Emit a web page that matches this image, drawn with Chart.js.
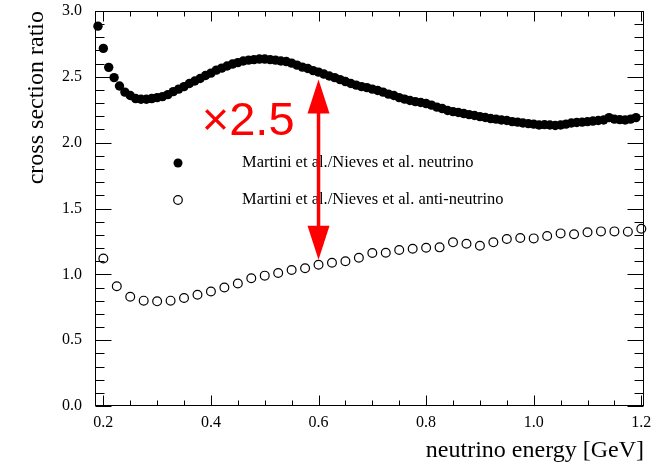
<!DOCTYPE html>
<html>
<head>
<meta charset="utf-8">
<script src="https://cdn.jsdelivr.net/npm/chart.js"></script>
<style>
html, body { margin: 0; padding: 0; background: #fff; }
</style>
</head>
<body>
<canvas id="myChart" width="662" height="465"></canvas>
<script>
// neutrino: filled dots, every 10 MeV
var nuEnergy = [0.19, 0.20, 0.21, 0.22, 0.23, 0.24, 0.25, 0.26, 0.27, 0.28, 0.29,
  0.30, 0.31, 0.32, 0.33, 0.34, 0.35, 0.36, 0.37, 0.38, 0.39,
  0.40, 0.41, 0.42, 0.43, 0.44, 0.45, 0.46, 0.47, 0.48, 0.49,
  0.50, 0.51, 0.52, 0.53, 0.54, 0.55, 0.56, 0.57, 0.58, 0.59,
  0.60, 0.61, 0.62, 0.63, 0.64, 0.65, 0.66, 0.67, 0.68, 0.69,
  0.70, 0.71, 0.72, 0.73, 0.74, 0.75, 0.76, 0.77, 0.78, 0.79,
  0.80, 0.81, 0.82, 0.83, 0.84, 0.85, 0.86, 0.87, 0.88, 0.89,
  0.90, 0.91, 0.92, 0.93, 0.94, 0.95, 0.96, 0.97, 0.98, 0.99,
  1.00, 1.01, 1.02, 1.03, 1.04, 1.05, 1.06, 1.07, 1.08, 1.09,
  1.10, 1.11, 1.12, 1.13, 1.14, 1.15, 1.16, 1.17, 1.18, 1.19];
var nuRatio = [2.885, 2.716, 2.572, 2.494, 2.430, 2.384, 2.358, 2.335, 2.330, 2.330, 2.335,
  2.342, 2.350, 2.365, 2.388, 2.407, 2.426, 2.449, 2.468, 2.487, 2.510,
  2.528, 2.551, 2.566, 2.582, 2.597, 2.608, 2.620, 2.627, 2.631, 2.635,
  2.635, 2.631, 2.627, 2.620, 2.616, 2.604, 2.589, 2.574, 2.563, 2.547,
  2.536, 2.521, 2.506, 2.494, 2.479, 2.464, 2.449, 2.437, 2.426, 2.418,
  2.407, 2.396, 2.384, 2.369, 2.358, 2.342, 2.331, 2.320, 2.312, 2.305,
  2.297, 2.285, 2.270, 2.259, 2.244, 2.236, 2.229, 2.221, 2.213, 2.206,
  2.198, 2.191, 2.183, 2.179, 2.172, 2.168, 2.160, 2.156, 2.149, 2.145,
  2.141, 2.134, 2.137, 2.134, 2.130, 2.134, 2.141, 2.149, 2.153, 2.156,
  2.160, 2.164, 2.168, 2.172, 2.190, 2.179, 2.175, 2.172, 2.179, 2.190];

// anti-neutrino: open circles, every 25 MeV
var antiEnergy = [0.200, 0.225, 0.250, 0.275, 0.300, 0.325, 0.350, 0.375, 0.400, 0.425,
  0.450, 0.475, 0.500, 0.525, 0.550, 0.575, 0.600, 0.625, 0.650, 0.675,
  0.700, 0.725, 0.750, 0.775, 0.800, 0.825, 0.850, 0.875, 0.900, 0.925,
  0.950, 0.975, 1.000, 1.025, 1.050, 1.075, 1.100, 1.125, 1.150, 1.175, 1.200];
var antiRatio = [1.120, 0.910, 0.830, 0.800, 0.795, 0.800, 0.820, 0.845, 0.870, 0.900,
  0.930, 0.970, 0.990, 1.010, 1.033, 1.046, 1.073, 1.088, 1.099, 1.126,
  1.162, 1.164, 1.185, 1.194, 1.202, 1.205, 1.243, 1.232, 1.217, 1.243,
  1.268, 1.276, 1.273, 1.291, 1.311, 1.304, 1.319, 1.326, 1.326, 1.324, 1.346];

var xTicks = [0.2, 0.4, 0.6, 0.8, 1.0, 1.2];
var yTicks = [0.0, 0.5, 1.0, 1.5, 2.0, 2.5, 3.0];
var labels = ["Martini et al./Nieves et al. neutrino", "Martini et al./Nieves et al. anti-neutrino"];

// the red "x2.5" arrow at 0.6 GeV, between the two curves
var arrowX = 0.6;
var arrowTop = 2.48;
var arrowBottom = 1.11;
var arrowText = "\u00d72.5";

var serif = "'Liberation Serif', 'Times New Roman', serif";

var framePlugin = {
  id: 'frame',
  beforeDatasetsDraw(chart) {
    const ctx = chart.ctx, a = chart.chartArea, x = chart.scales.x, y = chart.scales.y;
    const L = Math.round(a.left) + 0.5, R = Math.round(a.right) - 0.5;
    const T = Math.round(a.top) + 0.5, B = Math.round(a.bottom) - 0.5;
    ctx.save();
    ctx.strokeStyle = '#000';
    ctx.lineWidth = 1;
    ctx.strokeRect(L, T, R - L, B - T);
    ctx.beginPath();
    // inward ticks, left and right
    for (let i = 0; i <= 30; i++) {
      const py = Math.round(y.getPixelForValue(i / 10)) + 0.5;
      const len = i % 5 === 0 ? 16 : 9;
      ctx.moveTo(L, py); ctx.lineTo(L + len, py);
      ctx.moveTo(R, py); ctx.lineTo(R - len, py);
    }
    // bottom and top
    for (let i = 4; i <= 24; i++) {
      const px = Math.round(x.getPixelForValue(i * 0.05)) + 0.5;
      const len = i % 4 === 0 ? 10 : 5;
      ctx.moveTo(px, B); ctx.lineTo(px, B - len);
      ctx.moveTo(px, T); ctx.lineTo(px, T + len);
    }
    ctx.stroke();
    ctx.restore();
  },
  afterDatasetsDraw(chart) {
    const ctx = chart.ctx, a = chart.chartArea, x = chart.scales.x, y = chart.scales.y;
    ctx.save();
    // legend
    const lx = a.left + 83, ly = [a.top + 152, a.top + 189];
    ctx.fillStyle = '#000';
    ctx.strokeStyle = '#000';
    ctx.beginPath(); ctx.arc(lx, ly[0], 4.5, 0, Math.PI * 2); ctx.fill();
    ctx.lineWidth = 1.2;
    ctx.beginPath(); ctx.arc(lx, ly[1], 4.3, 0, Math.PI * 2); ctx.stroke();
    ctx.font = "16.5px " + serif;
    ctx.textBaseline = 'middle';
    ctx.textAlign = 'left';
    ctx.fillText(labels[0], lx + 64, ly[0]);
    ctx.fillText(labels[1], lx + 64, ly[1]);

    // arrow
    const ax = x.getPixelForValue(arrowX);
    const y1 = y.getPixelForValue(arrowTop), y2 = y.getPixelForValue(arrowBottom);
    const hl = 34, hw = 11;
    ctx.strokeStyle = '#ff0000';
    ctx.fillStyle = '#ff0000';
    ctx.lineWidth = 3.5;
    ctx.beginPath(); ctx.moveTo(ax, y1 + hl - 2); ctx.lineTo(ax, y2 - hl + 2); ctx.stroke();
    ctx.beginPath(); ctx.moveTo(ax, y1); ctx.lineTo(ax - hw, y1 + hl); ctx.lineTo(ax + hw, y1 + hl); ctx.closePath(); ctx.fill();
    ctx.beginPath(); ctx.moveTo(ax, y2); ctx.lineTo(ax - hw, y2 - hl); ctx.lineTo(ax + hw, y2 - hl); ctx.closePath(); ctx.fill();
    ctx.font = "47px 'Liberation Sans', Arial, sans-serif";
    ctx.textAlign = 'right';
    ctx.textBaseline = 'alphabetic';
    ctx.fillText(arrowText, ax - 24, y.getPixelForValue(2.06));
    ctx.restore();
  }
};

new Chart("myChart", {
  type: "scatter",
  data: {
    datasets: [{
      label: labels[0],
      data: nuEnergy.map((e, i) => ({x: e, y: nuRatio[i]})),
      pointRadius: 4.7,
      pointBackgroundColor: '#000',
      pointBorderColor: '#000',
      pointBorderWidth: 0,
      clip: false
    }, {
      label: labels[1],
      data: antiEnergy.map((e, i) => ({x: e, y: antiRatio[i]})),
      pointRadius: 4.4,
      pointBackgroundColor: 'rgba(0,0,0,0)',
      pointBorderColor: '#000',
      pointBorderWidth: 1.2,
      clip: false
    }]
  },
  options: {
    responsive: false,
    animation: false,
    devicePixelRatio: 1,
    layout: { padding: { top: 11, right: 18, left: 0, bottom: 0 } },
    plugins: { legend: { display: false }, tooltip: { enabled: false } },
    scales: {
      x: {
        type: 'linear',
        min: 0.1845,
        max: 1.205,
        afterBuildTicks: s => { s.ticks = xTicks.map(v => ({value: v})); },
        afterFit: s => { s.height = 59; s.paddingLeft = 0; s.paddingRight = 0; },
        grid: { display: false, drawTicks: false },
        border: { display: false },
        ticks: {
          padding: 7, color: '#000', maxRotation: 0, autoSkip: false,
          font: { family: serif, size: 16 },
          callback: v => v.toFixed(1)
        },
        title: {
          display: true, text: 'neutrino energy [GeV]', align: 'end', color: '#000',
          font: { family: serif, size: 24 }, padding: { top: 0, bottom: 0 }
        }
      },
      y: {
        min: 0,
        max: 3,
        afterBuildTicks: s => { s.ticks = yTicks.map(v => ({value: v})); },
        afterFit: s => { s.width = 95; s.paddingTop = 0; s.paddingBottom = 0; },
        grid: { display: false, drawTicks: false },
        border: { display: false },
        ticks: {
          padding: 13, color: '#000', autoSkip: false,
          font: { family: serif, size: 16 },
          callback: v => v.toFixed(1)
        },
        title: {
          display: true, text: 'cross section ratio', align: 'end', color: '#000',
          font: { family: serif, size: 24 }, padding: { top: 22, bottom: 0 }
        }
      }
    }
  },
  plugins: [framePlugin]
});
</script>
</body>
</html>
